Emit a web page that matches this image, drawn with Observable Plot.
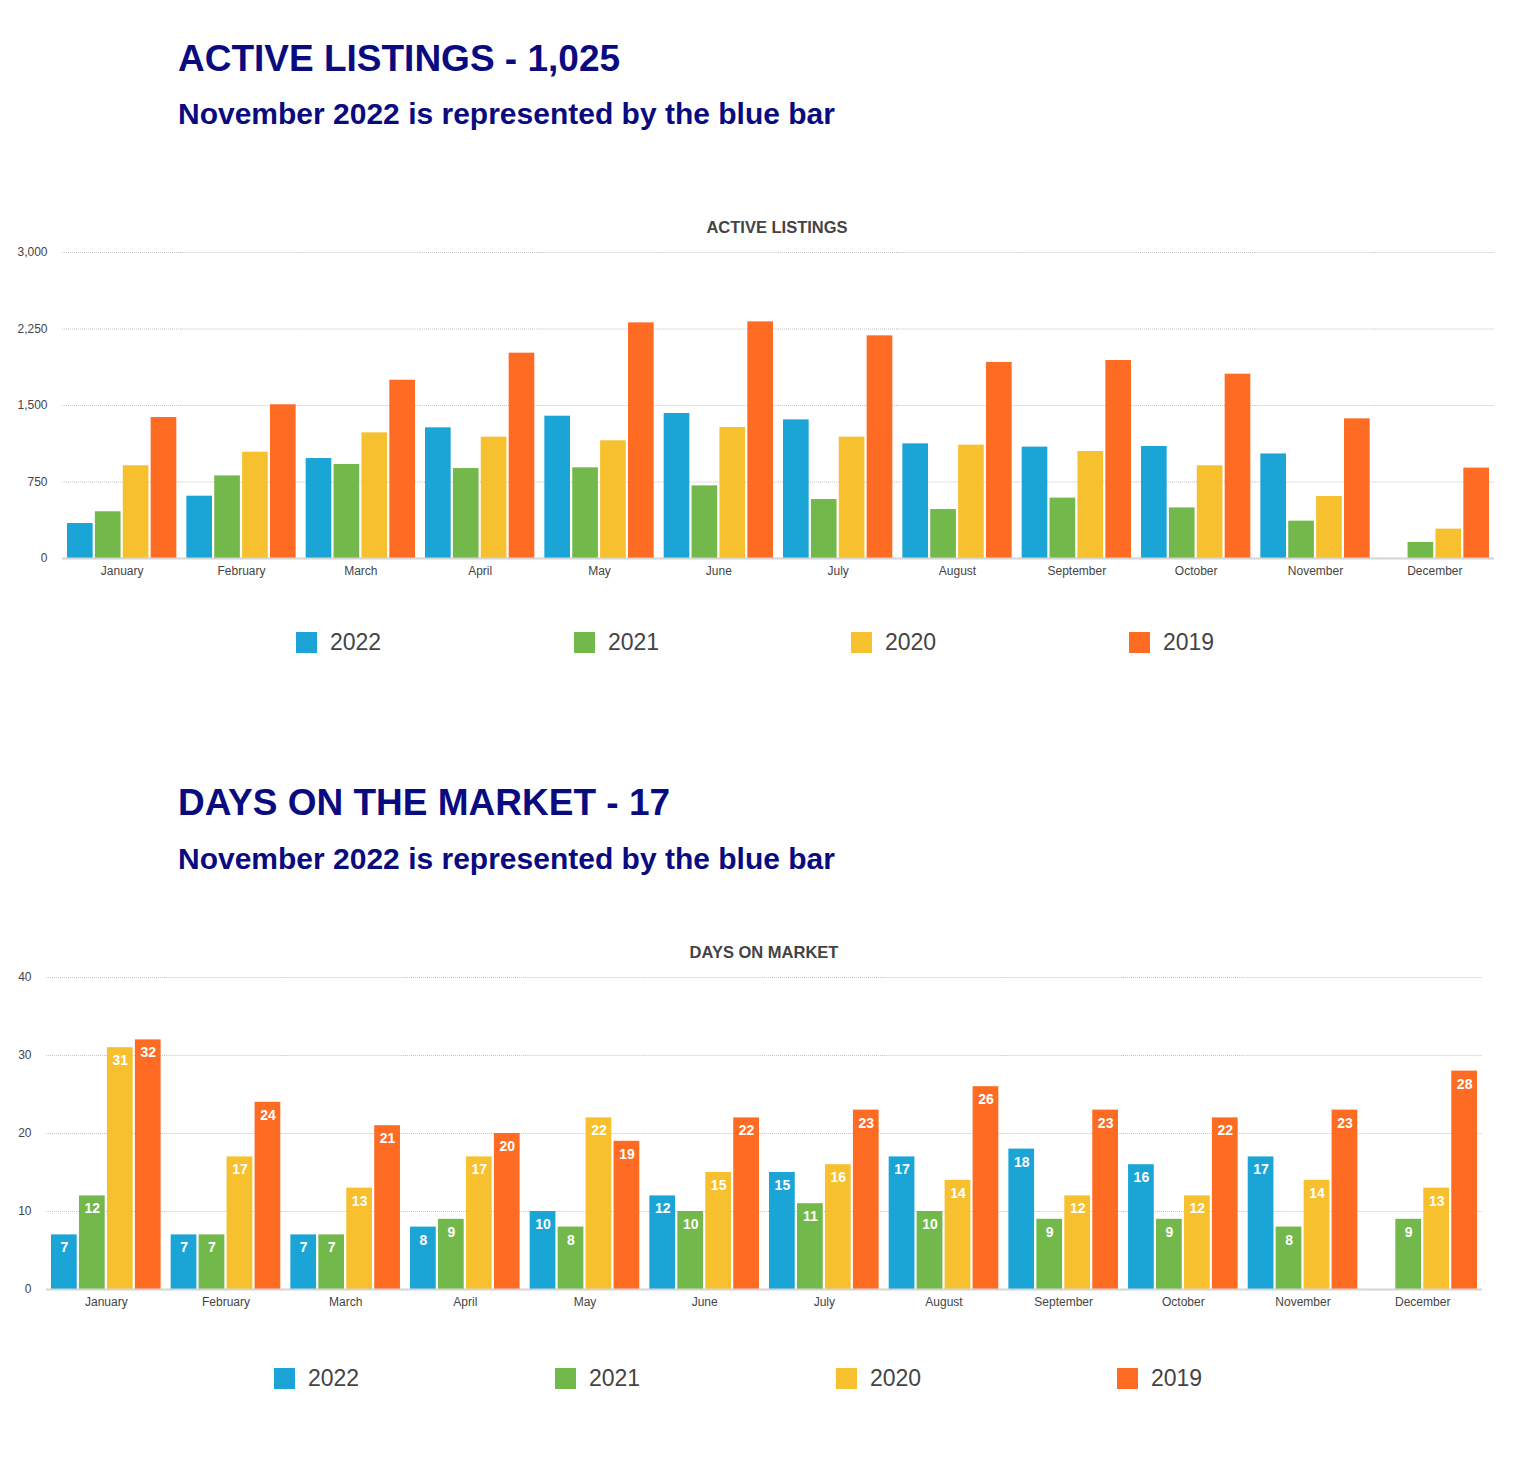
<!DOCTYPE html>
<html>
<head>
<meta charset="utf-8">
<script src="https://cdn.jsdelivr.net/npm/d3@7"></script>
<script src="https://cdn.jsdelivr.net/npm/@observablehq/plot@0.6"></script>
<style>
  body { margin: 0; background: #fff; }
  #page { position: relative; width: 1520px; height: 1484px; font-family: "Liberation Sans", Arial, Helvetica, sans-serif; }
  .abs { position: absolute; white-space: nowrap; line-height: 1; }
  .h1 { font-size: 37px; font-weight: bold; color: #0b0b80; left: 178px; }
  .h2 { font-size: 30px; font-weight: bold; color: #0b0b80; left: 178px; }
  .ct { font-size: 16.5px; font-weight: bold; color: #444; transform: translateX(-50%); }
  .leg { display: flex; align-items: center; font-size: 23px; color: #444; height: 21px; }
  .sw { width: 21px; height: 21px; margin-right: 13px; flex: none; }
  .chart { position: absolute; left: 0; }
</style>
</head>
<body>
<div id="page">
  <div class="abs h1" style="top:39.7px">ACTIVE LISTINGS - 1,025</div>
  <div class="abs h2" style="top:98.9px">November 2022 is represented by the blue bar</div>
  <div class="abs ct" style="top:219.3px;left:777px">ACTIVE LISTINGS</div>
  <div class="chart" id="chart1" style="top:240px"></div>
  <div id="legend1"></div>

  <div class="abs h1" style="top:783.7px">DAYS ON THE MARKET - 17</div>
  <div class="abs h2" style="top:843.9px">November 2022 is represented by the blue bar</div>
  <div class="abs ct" style="top:944.3px;left:764px">DAYS ON MARKET</div>
  <div class="chart" id="chart2" style="top:965px"></div>
  <div id="legend2"></div>
</div>
<script>
// ---- data ----
const months = ["January","February","March","April","May","June","July","August","September","October","November","December"];
const years = ["2022","2021","2020","2019"];
const colors = ["#1ba5d6","#72b84b","#f6c02e","#fe6b23"];

const listings2022 = [343, 611, 980, 1281, 1395, 1422, 1359, 1124, 1092, 1098, 1025, null];
const listings2021 = [458, 810, 922, 882, 889, 712, 578, 480, 592, 496, 366, 157];
const listings2020 = [909, 1042, 1232, 1190, 1154, 1284, 1190, 1111, 1049, 909, 608, 288];
const listings2019 = [1382, 1507, 1748, 2013, 2310, 2320, 2183, 1922, 1941, 1807, 1369, 886];

const dom2022 = [7, 7, 7, 8, 10, 12, 15, 17, 18, 16, 17, null];
const dom2021 = [12, 7, 7, 9, 8, 10, 11, 10, 9, 9, 8, 9];
const dom2020 = [31, 17, 13, 17, 22, 15, 16, 14, 12, 12, 14, 13];
const dom2019 = [32, 24, 21, 20, 19, 22, 23, 26, 23, 22, 23, 28];

const listingTicks = [0, 750, 1500, 2250, 3000];
const domTicks = [0, 10, 20, 30, 40];

// ---- drawing ----
function makeRows(series) {
  const rows = [];
  months.forEach((m, i) => years.forEach((y, j) => {
    const v = series[j][i];
    if (v != null) rows.push({month: m, year: y, value: v});
  }));
  return rows;
}

function chart({series, ticks, labels, height, marginTop, marginBottom, marginLeft, marginRight}) {
  const rows = makeRows(series);
  const pi = 0.084;
  const W = 1520 - marginLeft - marginRight;
  const step = W / (months.length - pi);
  const half = step * pi / 2;
  const marks = [
    Plot.ruleY(ticks.slice(1), {stroke: "#c4c4c4", strokeDasharray: "1,1", insetLeft: -half, insetRight: -half}),
    Plot.barY(rows, {x: "year", y: "value", fill: "year"}),
    Plot.ruleY([0], {stroke: "#d4d4d4", strokeWidth: 2, insetLeft: -half, insetRight: -half})
  ];
  if (labels) {
    marks.push(Plot.text(rows, {x: "year", y: "value", text: d => String(d.value), fill: "white", fontWeight: "bold", fontSize: 14, dy: 13}));
  }
  return Plot.plot({
    width: 1520, height, marginTop, marginBottom, marginLeft, marginRight,
    facet: {data: rows, x: "month"},
    fx: {domain: months, paddingInner: pi, paddingOuter: 0, round: false, axis: "bottom", label: null, tickSize: 0, tickPadding: 8},
    x: {domain: years, paddingInner: 0.08, paddingOuter: 0, round: false, axis: null},
    y: {domain: [ticks[0], ticks[ticks.length - 1]], ticks, tickFormat: d3.format(","), tickSize: 0, tickPadding: 20, label: null},
    color: {domain: years, range: colors},
    style: {fontFamily: "'Liberation Sans', Arial, Helvetica, sans-serif", fontSize: "12px", color: "#444", background: "white", overflow: "visible"},
    marks
  });
}

function legend(el, top, lefts) {
  years.forEach((y, i) => {
    const item = document.createElement("div");
    item.className = "abs leg";
    item.style.top = top + "px";
    item.style.left = lefts[i] + "px";
    const sw = document.createElement("div");
    sw.className = "sw";
    sw.style.background = colors[i];
    const t = document.createElement("span");
    t.textContent = y;
    item.appendChild(sw);
    item.appendChild(t);
    el.appendChild(item);
  });
}

document.getElementById("chart1").appendChild(chart({
  series: [listings2022, listings2021, listings2020, listings2019],
  ticks: listingTicks, labels: false,
  height: 350, marginTop: 12, marginBottom: 32, marginLeft: 67, marginRight: 31
}));
legend(document.getElementById("legend1"), 631.5, [296, 574, 851, 1129]);

document.getElementById("chart2").appendChild(chart({
  series: [dom2022, dom2021, dom2020, dom2019],
  ticks: domTicks, labels: true,
  height: 360, marginTop: 12, marginBottom: 36, marginLeft: 51, marginRight: 43
}));
legend(document.getElementById("legend2"), 1367.5, [274, 555, 836, 1117]);
</script>
</body>
</html>
